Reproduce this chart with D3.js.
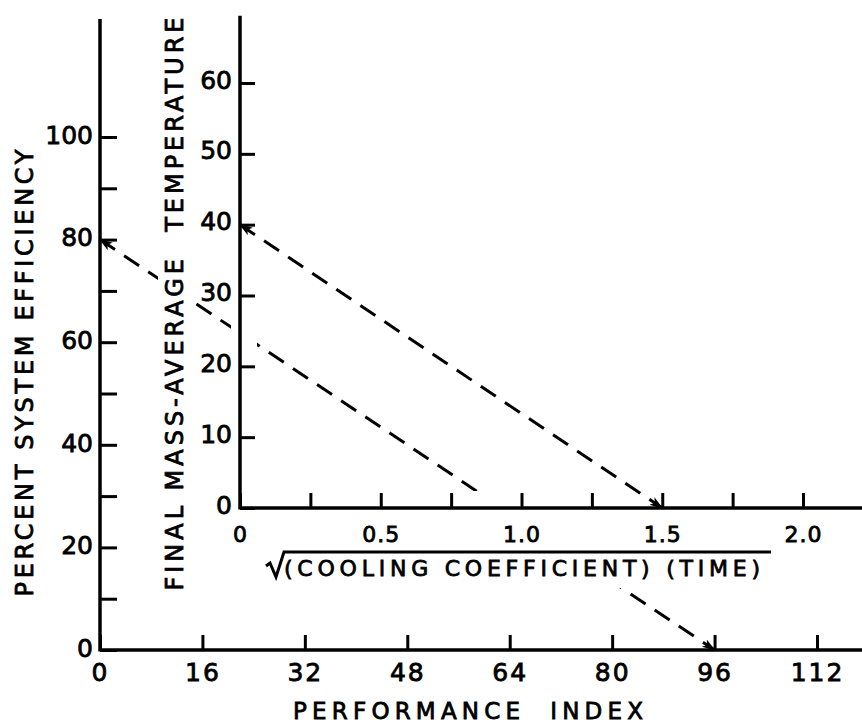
<!DOCTYPE html>
<html>
<head>
<meta charset="utf-8">
<script src="https://cdn.jsdelivr.net/npm/d3@7"></script>
<style>
  body { margin: 0; background: #fff; }
  text { font-family: "DejaVu Sans", sans-serif; fill: #000; stroke: #000; stroke-width: 0.8px; }
</style>
</head>
<body>
<div id="chart"></div>
<script>
// outer chart: performance index vs percent system efficiency
const perfTicks = [0, 16, 32, 48, 64, 80, 96, 112];
const effTicks = [0, 10, 20, 30, 40, 50, 60, 70, 80, 90, 100];
const effLabels = [0, 20, 40, 60, 80, 100];
const effLine = [[0, 80], [96, 0]];

// inner chart: sqrt(cooling coefficient * time) vs final mass-average temperature
const coolTicks = [0, 0.25, 0.5, 0.75, 1.0, 1.25, 1.5, 1.75, 2.0];
const coolLabels = [0, 0.5, 1.0, 1.5, 2.0];
const tempTicks = [0, 10, 20, 30, 40, 50, 60];
const tempLine = [[0, 40], [1.5, 0]];

const width = 862;
const height = 726;

const svg = d3.select('#chart')
    .append('svg')
    .attr('width', width)
    .attr('height', height);

const defs = svg.append('defs');
defs.append('marker')
    .attr('id', 'arrow')
    .attr('viewBox', '0 -5 12 10')
    .attr('refX', 11)
    .attr('refY', 0)
    .attr('markerWidth', 4.5)
    .attr('markerHeight', 4)
    .attr('markerUnits', 'strokeWidth')
    .attr('orient', 'auto-start-reverse')
    .append('path')
    .attr('d', 'M0,-4L12,0L0,4L3,0Z')
    .attr('fill', '#000');

// scales
const x = d3.scaleLinear().domain([0, 112]).range([100, 817]);
const y = d3.scaleLinear().domain([0, 100]).range([650, 137]);
const ix = d3.scaleLinear().domain([0, 2]).range([240, 803]);
const iy = d3.scaleLinear().domain([0, 60]).range([508, 83]);

const fmt = v => v === 0 ? '0' : d3.format('.1f')(v);

// ---- outer axes ----
const outerY = svg.append('g')
    .attr('transform', `translate(${x(0)},0)`)
    .call(d3.axisLeft(y).tickValues(effTicks).tickSize(-17).tickPadding(7)
        .tickFormat(d => effLabels.includes(d) ? d : ''));
const outerX = svg.append('g')
    .attr('transform', `translate(0,${y(0)})`)
    .call(d3.axisBottom(x).tickValues(perfTicks).tickSize(-15).tickPadding(13));

svg.append('line')
    .attr('x1', x(0)).attr('x2', x(0))
    .attr('y1', y(0) + 1.5).attr('y2', y(123))
    .attr('stroke', '#000').attr('stroke-width', 3.5);
svg.append('line')
    .attr('x1', x(0)).attr('x2', width)
    .attr('y1', y(0)).attr('y2', y(0))
    .attr('stroke', '#000').attr('stroke-width', 3.5);

// outer dashed line
svg.append('path')
    .datum(effLine)
    .attr('d', d3.line().x(d => x(d[0])).y(d => y(d[1])))
    .attr('fill', 'none')
    .attr('stroke', '#000')
    .attr('stroke-width', 3)
    .attr('stroke-dasharray', '18 11')
    .attr('marker-start', 'url(#arrow)')
    .attr('marker-end', 'url(#arrow)');

// blank out the line behind inner chart lettering
svg.append('rect')
    .attr('x', 158).attr('y', 10).attr('width', 37).attr('height', 590)
    .attr('fill', '#fff');
svg.append('rect')
    .attr('x', ix(0) - 9).attr('y', iy(69)).attr('width', 26).attr('height', iy(0) - iy(69))
    .attr('fill', '#fff');
svg.append('rect')
    .attr('x', ix(0)).attr('y', iy(0) - 17).attr('width', width - ix(0)).attr('height', 97)
    .attr('fill', '#fff');

// ---- inner axes ----
const innerY = svg.append('g')
    .attr('transform', `translate(${ix(0)},0)`)
    .call(d3.axisLeft(iy).tickValues(tempTicks).tickSize(-15).tickPadding(8));
const innerX = svg.append('g')
    .attr('transform', `translate(0,${iy(0)})`)
    .call(d3.axisBottom(ix).tickValues(coolTicks).tickSize(-15).tickPadding(18)
        .tickFormat(d => coolLabels.includes(d) ? fmt(d) : ''));

svg.append('line')
    .attr('x1', ix(0)).attr('x2', ix(0))
    .attr('y1', iy(0) + 1.5).attr('y2', iy(69.5))
    .attr('stroke', '#000').attr('stroke-width', 3.5);
svg.append('line')
    .attr('x1', ix(0)).attr('x2', width)
    .attr('y1', iy(0)).attr('y2', iy(0))
    .attr('stroke', '#000').attr('stroke-width', 3.5);

svg.append('path')
    .datum(tempLine)
    .attr('d', d3.line().x(d => ix(d[0])).y(d => iy(d[1])))
    .attr('fill', 'none')
    .attr('stroke', '#000')
    .attr('stroke-width', 3)
    .attr('stroke-dasharray', '18 11')
    .attr('marker-start', 'url(#arrow)')
    .attr('marker-end', 'url(#arrow)');

// axis styling
[outerY, outerX, innerY, innerX].forEach(g => {
    g.select('.domain').remove();
    g.selectAll('.tick line').attr('stroke', '#000').attr('stroke-width', 3);
    g.selectAll('.tick text')
        .attr('font-family', '"DejaVu Sans", sans-serif')
        .attr('font-size', 25)
        .attr('fill', '#000');
});
innerX.selectAll('.tick text').attr('font-size', 22).attr('letter-spacing', 1);
outerX.selectAll('.tick text').attr('letter-spacing', 2);
innerY.selectAll('.tick text').attr('dy', '0.2em');
outerY.selectAll('.tick text').attr('dy', '0.25em');

// ---- titles ----
svg.append('text')
    .attr('transform', 'translate(24,373) rotate(-90)')
    .attr('text-anchor', 'middle')
    .attr('dy', '0.36em')
    .attr('font-size', 24)
    .attr('textLength', 447)
    .attr('lengthAdjust', 'spacing')
    .text('PERCENT SYSTEM EFFICIENCY');

svg.append('text')
    .attr('transform', 'translate(174,304) rotate(-90)')
    .attr('text-anchor', 'middle')
    .attr('dy', '0.36em')
    .attr('font-size', 24)
    .attr('textLength', 573)
    .attr('lengthAdjust', 'spacing')
    .attr('xml:space', 'preserve')
    .text('FINAL MASS-AVERAGE  TEMPERATURE');

svg.append('text')
    .attr('x', 468).attr('y', 711)
    .attr('text-anchor', 'middle')
    .attr('dy', '0.36em')
    .attr('font-size', 23)
    .attr('textLength', 350)
    .attr('lengthAdjust', 'spacing')
    .attr('xml:space', 'preserve')
    .text('PERFORMANCE  INDEX');

svg.append('text')
    .attr('x', 522).attr('y', 568)
    .attr('text-anchor', 'middle')
    .attr('dy', '0.36em')
    .attr('font-size', 22)
    .attr('textLength', 476)
    .attr('lengthAdjust', 'spacing')
    .text('(COOLING COEFFICIENT) (TIME)');

// radical sign with overline
svg.append('path')
    .attr('d', 'M266,566 L270,563 L276,577 L284,552 L771,552')
    .attr('fill', 'none')
    .attr('stroke', '#000')
    .attr('stroke-width', 3)
    .attr('stroke-linejoin', 'miter');
</script>
</body>
</html>
